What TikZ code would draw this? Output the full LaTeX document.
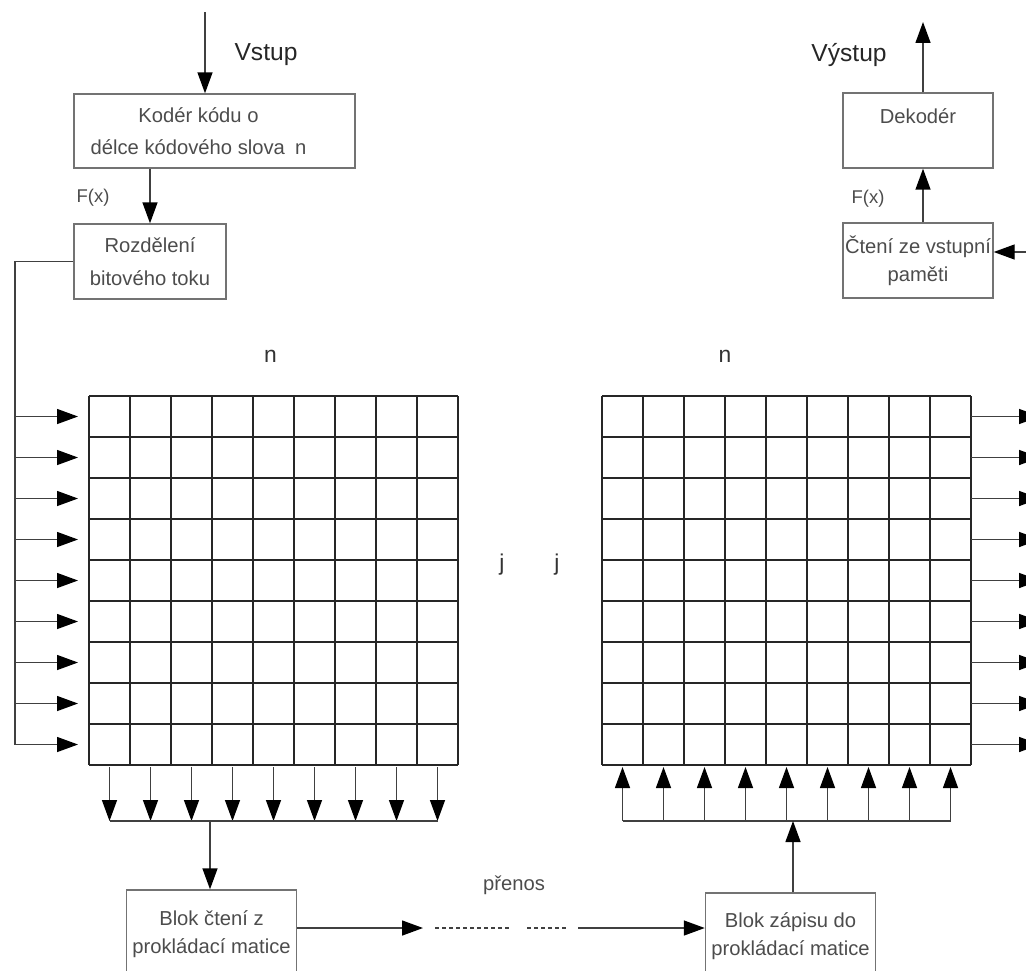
\documentclass[tikz,border=0pt]{standalone}
\usepackage{fontspec}
\setmainfont{Liberation Sans}
\usepackage{tikz}
\usetikzlibrary{arrows.meta,positioning}
\definecolor{textseda}{gray}{0.3}
\definecolor{ramecek}{gray}{0.45}
\definecolor{cara}{gray}{0.25}

\begin{document}
\begin{tikzpicture}
[x=0.02cm,y=-0.02cm,
blok/.style={draw=ramecek, line width=0.8pt, text=textseda, align=center,
font=\fontsize{11.5}{16}\selectfont},
popis/.style={text=textseda, align=center, font=\fontsize{11.5}{16}\selectfont},
nadpis/.style={text=black!85, font=\fontsize{14}{16}\selectfont},
znak/.style={text=black!80, font=\fontsize{13}{15}\selectfont},
linka/.style={draw=cara, line width=0.8pt},
sipka/.style={linka, -{Triangle[length=0.42cm,width=0.3cm,color=black]}},
mrizka/.style={draw=black!85, line width=1pt}]
\useasboundingbox (0,0) rectangle (1026,970);
\clip (0,0) rectangle (1026,970);

\node[blok, minimum width=5.62cm, minimum height=1.48cm] (koder) at (214.5,131) {};
\node[popis, font=\fontsize{11.5}{18.5}\selectfont] at ([xshift=-0.32cm]koder.center)
{Kodér kódu o\\délce kódového slova\enspace n};
\node[blok, font=\fontsize{11.5}{18.5}\selectfont, minimum width=3.04cm, minimum height=1.5cm]
(rozdeleni) at (150,261.5) {Rozdělení\\bitového toku};
\node[blok, minimum width=3cm, minimum height=1.5cm] (dekoder) at (918,130.5) {Dekodér\\\mbox{}};
\node[blok, inner sep=0pt, minimum width=3cm, minimum height=1.5cm] (cteni) at (918,260.5)
{Čtení ze vstupní\\paměti};
\node[blok, minimum width=3.34cm, minimum height=1.76cm] (blokcteni) at (211.5,934)
{Blok čtení z\\prokládací matice};
\node[blok, minimum width=3.38cm, minimum height=1.72cm] (blokzapisu) at (790.5,936)
{Blok zápisu do\\prokládací matice};

\node[nadpis, anchor=base] (vstup) at (266,60) {Vstup};
\node[nadpis, anchor=base] (vystup) at (849,61) {Výstup};
\node[popis, anchor=base, font=\fontsize{10.5}{12}\selectfont] (fx1) at (93,202) {F(x)};
\node[popis, anchor=base, font=\fontsize{10.5}{12}\selectfont] (fx2) at (868,203) {F(x)};
\node[popis, anchor=base] (prenos) at (514,890) {přenos};
\node[znak, anchor=base] (n1) at (270.5,362) {n};
\node[znak, anchor=base] (n2) at (725,362) {n};
\node[znak, anchor=base] (j1) at (502,570) {j};
\node[znak, anchor=base] (j2) at (557,570) {j};

\coordinate (zdroj) at (205,12);
\coordinate (cil) at (923,22);
\coordinate (pamet) at (1030,252);
\draw[sipka] (zdroj) -- (zdroj |- koder.north);
\draw[sipka] (koder.south -| rozdeleni.north) -- (rozdeleni.north);
\draw[sipka] (cil |- dekoder.north) -- (cil);
\draw[sipka] (cil |- cteni.north) -- (cil |- dekoder.south);
\draw[sipka] (pamet) -- (pamet -| cteni.east);

% matice
\foreach \i in {0,...,9}{
\draw[mrizka] (89+41*\i,396) -- (89+41*\i,765);
\draw[mrizka] (89,396+41*\i) -- (458,396+41*\i);
\draw[mrizka] (602+41*\i,396) -- (602+41*\i,765);
\draw[mrizka] (602,396+41*\i) -- (971,396+41*\i);
}

\coordinate (rozvod) at (15,744.5);
\draw[linka] (rozdeleni.west) -| (rozvod);
\foreach \r in {0,...,8}{
\coordinate (radek\r) at (15,416.5+41*\r);
\draw[sipka] (radek\r) -- (radek\r -| 78,0);
\draw[sipka] (radek\r -| 971,0) -- (radek\r -| 1040,0);
}

\coordinate (sberL) at (210,821);
\coordinate (sberP) at (793,821);
\foreach \s in {0,...,8}{
\coordinate (sloupL\s) at (109.5+41*\s,767);
\coordinate (sloupP\s) at (622.5+41*\s,767);
\draw[sipka] (sloupL\s) -- (sloupL\s |- sberL);
\draw[sipka] (sloupP\s |- sberP) -- (sloupP\s);
}
\draw[linka] (sloupL0 |- sberL) -- (sloupL8 |- sberL);
\draw[linka] (sloupP0 |- sberP) -- (sloupP8 |- sberP);
\draw[sipka] (sberL) -- (sberL |- blokcteni.north);
\draw[sipka] (sberP |- blokzapisu.north) -- (sberP);

% prenos
\coordinate (kanal1) at (423,928);
\coordinate (kanal2) at (578,928);
\draw[sipka] (blokcteni.east |- kanal1) -- (kanal1);
\draw[linka, dash pattern=on 2pt off 2pt] (435,928) -- (510,928);
\draw[linka, dash pattern=on 2pt off 2pt] (527,928) -- (566,928);
\draw[sipka] (kanal2) -- (kanal2 -| blokzapisu.west);
\end{tikzpicture}
\end{document}
